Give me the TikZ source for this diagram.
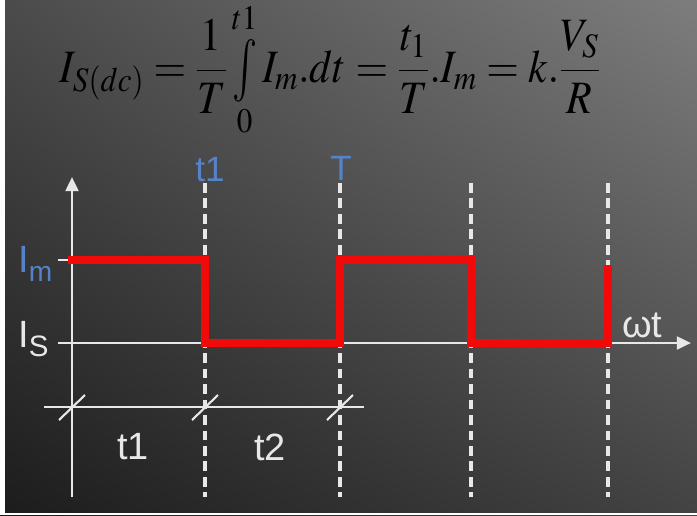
\documentclass[tikz,border=0pt]{standalone}
\usepackage{mathptmx}
\usepackage[no-math]{fontspec}
\setmainfont{Liberation Sans}
\usepackage{graphicx}
\usetikzlibrary{arrows.meta,shadings}

\definecolor{bgul}{RGB}{75,75,75}
\definecolor{bgur}{RGB}{125,125,125}
\definecolor{bgll}{RGB}{28,28,28}
\definecolor{bglr}{RGB}{67,67,67}
\definecolor{lblue}{RGB}{85,130,200}
\definecolor{wavered}{RGB}{240,10,10}
\definecolor{axiswhite}{RGB}{232,232,232}

\newcommand{\midint}{\mathop{\vcenter{\hbox{\scalebox{1}[1.35]{$\int$}}}}\limits}

\begin{document}
\begin{tikzpicture}[x=0.025cm, y=-0.025cm,
    axisline/.style={axiswhite, line width=2pt},
    gridline/.style={axiswhite, line width=2.2pt, dash pattern=on 7pt off 4pt},
    waveline/.style={wavered, line width=5.5pt, line join=miter},
    tickmark/.style={axiswhite, line width=1.5pt},
    lbl/.style={font=\fontsize{25}{28}\selectfont, inner sep=0pt},
    biglbl/.style={font=\fontsize{27}{30}\selectfont, inner sep=0pt}]
    % we draw the shaded background
    \shade[upper left=bgul, upper right=bgur, lower left=bgll, lower right=bglr] (0,0) rectangle (697,515);
    \fill[white] (0,0) rectangle (5,515);
    \fill[white] (0,513) rectangle (697,515);

    % formula of the mean current
    \node[inner sep=0pt] (eqn) at (330,70) {\resizebox{13.5cm}{\height}{\fontsize{33}{40}\selectfont$\displaystyle I_{S(dc)}=\frac{1}{T}\midint_0^{t1} I_m.dt=\frac{t_1}{T}.I_m=k.\frac{V_S}{R}$}};

    % we name the corners of the plot
    \coordinate (ytop) at (72,177);
    \coordinate (ybot) at (72,497);
    \coordinate (xleft) at (58,343);
    \coordinate (xright) at (691,343);

    % dashed time marks
    \foreach \x in {205,340,471,608}
        \draw[gridline] (\x,183) -- (\x,497);

    % axes
    \draw[axisline, -{Triangle[length=10pt, width=9pt]}] (ybot) -- (ytop);
    \draw[axisline, -{Triangle[length=10pt, width=9pt]}] (xleft) -- (xright);
    \draw[axisline] (58,260) -- (68,260);

    % we draw the current waveform
    \draw[waveline] (68,260) -- (205,260) -- (205,343) -- (340,343) -- (340,260)
        -- (471,260) -- (471,343) -- (608,343) -- (608,265);

    % time intervals below
    \draw[axisline] (44,407) -- (364,407);
    \foreach \x in {72,205,340}
        \draw[tickmark] (\x-13,420) -- (\x+13,395);

    % labels
    \node[lbl, text=lblue] (lt1) at (210,170) {t1};
    \node[lbl, text=lblue] (lT) at (341,168) {T};
    \node[biglbl, text=lblue, anchor=base west] (lIm) at (18,272)
        {I\raisebox{-7pt}{\fontsize{20}{22}\selectfont m}};
    \node[biglbl, text=axiswhite, anchor=base west] (lIs) at (18,347)
        {I\raisebox{-7pt}{\fontsize{21}{22}\selectfont S}};
    \node[biglbl, text=axiswhite, anchor=base west] (lwt) at (622,337) {ωt};
    \node[biglbl, text=axiswhite] (lint1) at (133,447) {t1};
    \node[biglbl, text=axiswhite] (lint2) at (270,447) {t2};
\end{tikzpicture}
\end{document}
